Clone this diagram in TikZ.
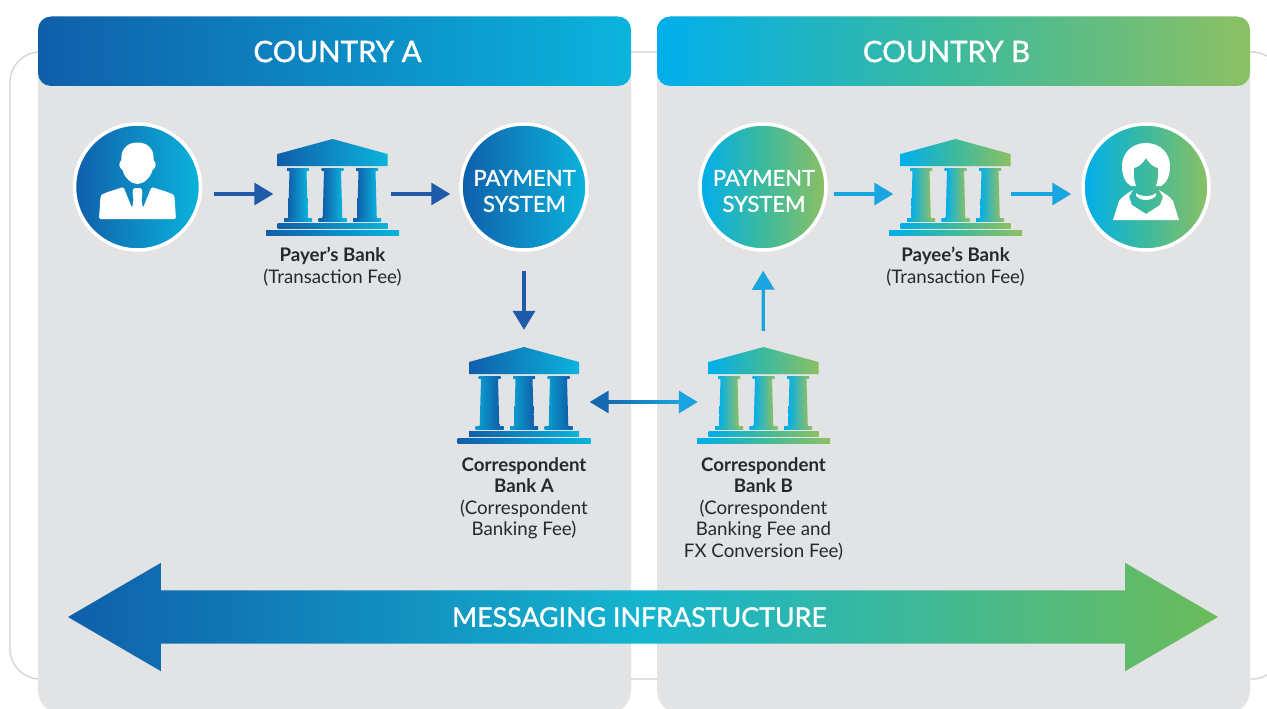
\documentclass[tikz,border=0pt]{standalone}
\usepackage{fontspec}
\setmainfont{Lato}
\newfontfamily\mediumfont[FakeBold=1.2]{Lato}
\usepackage{tikz}
\usetikzlibrary{arrows.meta,shapes.arrows}
\definecolor{panelgray}{HTML}{E1E3E5}
\definecolor{framegray}{HTML}{D2D2D2}
\definecolor{blueA}{HTML}{0F5FAA}
\definecolor{cyanA}{HTML}{0BB4DC}
\definecolor{cyanB}{HTML}{00AEEC}
\definecolor{tealB}{HTML}{3DBA9C}
\definecolor{greenB}{HTML}{8CC063}
\definecolor{greenM}{HTML}{6CBC5A}
\definecolor{arrowdark}{HTML}{1F5BA8}
\definecolor{arrowmid}{HTML}{1468B0}
\definecolor{arrowlight}{HTML}{1BA5E0}
\definecolor{labeltext}{HTML}{26282B}
\tikzset{
  gradA/.style={left color=blueA,right color=cyanA},
  gradB/.style={left color=cyanB,right color=greenB,middle color=tealB},
  colA/.style={left color=cyanA!70!blueA,right color=blueA},
  colB/.style={left color=cyanB,right color=greenB},
  disc/.style={circle,draw=white,line width=3.5pt,minimum size=126pt,inner sep=0pt},
  disctext/.style={text=white,align=center,inner sep=0pt,font=\mediumfont\fontsize{22}{26}\selectfont},
  header/.style={rounded corners=13pt},
  headtext/.style={text=white,font=\mediumfont\fontsize{29.5}{31}\selectfont},
  banksize/.style={minimum width=110pt,minimum height=96pt,inner sep=0pt},
  banklabel/.style={text=labeltext,align=center,anchor=north,inner sep=0pt,font=\fontsize{18.7}{21.5}\selectfont},
  flow/.style={line width=3.3pt,-{Triangle[length=19pt,width=22pt]}},
  pics/bank/.style 2 args={code={
    \shade[#1] (-55,-21) -- (-55,-33) -- (0,-48) -- (55,-33) -- (55,-21) -- cycle;
    \foreach \cx in {-34.5,0,34.5}{
      \shade[#2] (\cx-11,-19) rectangle (\cx+11,-16.5);
      \shade[#2] (\cx-8.5,-16.5) -- (\cx+8.5,-16.5) -- (\cx+9.8,31) -- (\cx-9.8,31) -- cycle;
      \shade[#2] (\cx-14,31.5) rectangle (\cx+14,34.5);
    }
    \shade[#1] (-55,36.5) rectangle (55,41);
    \shade[#1] (-66.5,43) rectangle (66.5,48);
  }},
  pics/manicon/.style={code={
    \fill[white] (0,-44.5) .. controls (-12,-44.5) and (-17,-36) .. (-16,-27) .. controls (-19,-25) and (-19,-19) .. (-15,-17) .. controls (-13,-9) and (-6,-3) .. (0,-3) .. controls (6,-3) and (13,-9) .. (15,-17) .. controls (19,-19) and (19,-25) .. (16,-27) .. controls (17,-36) and (12,-44.5) .. (0,-44.5) -- cycle;
    \fill[white,rounded corners=1.5pt] (-38.5,32) -- (-37,10) .. controls (-36,7) and (-30,5) .. (-14,0) -- (-5.5,21) -- (-4,14) -- (-5,5) -- (-4,1) -- (4,1) -- (5,5) -- (4,14) -- (5.5,21) -- (14,0) .. controls (30,5) and (36,7) .. (37,10) -- (38.5,32) -- cycle;
  }},
  pics/womanicon/.style={code={
    \fill[white] (0,-44) .. controls (-15,-44) and (-24,-33) .. (-24,-21) .. controls (-24,-12) and (-21,-4) .. (-15,-1) -- (-10,-1) .. controls (-12,-6) and (-12.5,-13) .. (-12,-19) .. controls (-7,-20) and (-3,-24) .. (0,-29) .. controls (3,-24) and (7,-20) .. (12,-19) .. controls (12.5,-13) and (12,-6) .. (10,-1) -- (15,-1) .. controls (21,-4) and (24,-12) .. (24,-21) .. controls (24,-33) and (15,-44) .. (0,-44) -- cycle;
    \fill[white] (-33,33) -- (-27,14) .. controls (-24,10) and (-20,7) .. (-13,3) -- (-17,10) -- (-14,18) -- (0,27) -- (14,18) -- (17,10) -- (13,3) .. controls (20,7) and (24,10) .. (27,14) -- (33,33) -- cycle;
    \fill[white] (-10,6) .. controls (-6,10) and (6,10) .. (10,6) -- (10,8.5) .. controls (6,14.5) and (-6,14.5) .. (-10,8.5) -- cycle;
  }}
}
\begin{document}
\begin{tikzpicture}[x=1pt,y=-1pt]
  \path[use as bounding box,clip] (0,0) rectangle (1267,709);
  \fill[white] (0,0) rectangle (1267,709);
  \draw[framegray,line width=1.3pt,rounded corners=30pt] (10,52) rectangle (1282,679);
  \fill[panelgray,rounded corners=24pt] (38,50) rectangle (631,714);
  \fill[panelgray,rounded corners=24pt] (657,50) rectangle (1250,714);
  \shade[gradA,header] (38,16.5) rectangle (631,86);
  \shade[gradB,header] (657,16.5) rectangle (1250,86);
  \node[headtext] (countrya) at (337.5,51.5) {COUNTRY A};
  \node[headtext] (countryb) at (946.5,51.5) {COUNTRY B};
  \node[disc,gradA] (payer) at (137.5,187) {};
  \node[disc,gradA] (systema) at (524,187) {};
  \node[disc,gradB] (systemb) at (763,187) {};
  \node[disc,gradB] (payee) at (1146,187) {};
  \node[disctext] (systematext) at (524.5,191) {PAYMENT\\SYSTEM};
  \node[disctext] (systembtext) at (764,191) {PAYMENT\\SYSTEM};
  \pic at (payer) {manicon};
  \pic at (payee) {womanicon};
  \node[banksize] (payerbank) at (332.5,187) {};
  \node[banksize] (payeebank) at (955.5,187) {};
  \node[banksize] (corra) at (524,395) {};
  \node[banksize] (corrb) at (763.5,395) {};
  \pic at (payerbank) {bank={gradA}{gradA}};
  \pic at (payeebank) {bank={gradB}{colB}};
  \pic at (corra) {bank={gradA}{colA}};
  \pic at (corrb) {bank={gradB}{colB}};
  \node[banklabel] (payerlabel) at (332.5,247) {\textbf{Payer’s Bank}\\(Transaction Fee)};
  \node[banklabel] (payeelabel) at (955.5,247) {\textbf{Payee’s Bank}\\(Transaction Fee)};
  \node[banklabel] (corralabel) at (524,457) {\textbf{Correspondent}\\\textbf{Bank A}\\(Correspondent\\Banking Fee)};
  \node[banklabel] (corrblabel) at (763.5,457) {\textbf{Correspondent}\\\textbf{Bank B}\\(Correspondent\\Banking Fee and\\FX Conversion Fee)};
  \draw[flow,arrowdark,shorten <=12pt,shorten >=4pt] ([yshift=-7pt]payer.east) -- ([yshift=-7pt]payerbank.west);
  \draw[flow,arrowdark,shorten <=3.5pt,shorten >=9pt] ([yshift=-7pt]payerbank.east) -- ([yshift=-7pt]systema.west);
  \draw[flow,arrowdark,shorten <=19pt,shorten >=17pt] (systema) -- (corra);
  \draw[flow,arrowlight,shorten <=16pt,shorten >=19pt] (corrb) -- (systemb);
  \draw[flow,arrowlight,shorten <=6pt,shorten >=7pt] ([yshift=-7pt]systemb.east) -- ([yshift=-7pt]payeebank.west);
  \draw[flow,arrowlight,shorten <=0.5pt,shorten >=10pt] ([yshift=-7pt]payeebank.east) -- ([yshift=-7pt]payee.west);
  \coordinate (exchange) at (644,402);
  \coordinate (exchangeleft) at (606,403.65);
  \coordinate (exchangeright) at (682,400.35);
  \draw[flow,arrowmid,shorten >=10.5pt] (exchange) -- ([yshift=-7pt]corra.east);
  \draw[flow,arrowlight,shorten >=10.5pt] (exchange) -- ([yshift=-7pt]corrb.west);
  \shade[left color=arrowmid,right color=arrowlight] (exchangeleft) rectangle (exchangeright);
  \node[double arrow,double arrow tip angle=60.5,double arrow head extend=27.5pt,minimum height=1150pt,minimum width=108pt,inner xsep=0pt,inner ysep=16.8pt,text height=19.3pt,text depth=0pt,left color=blueA,right color=greenM,middle color=cyanA!90!greenM,text=white,font=\mediumfont\fontsize{26.8}{28}\selectfont] (messaging) at (643,617) {MESSAGING INFRASTUCTURE\hspace*{7pt}};
\end{tikzpicture}
\end{document}
